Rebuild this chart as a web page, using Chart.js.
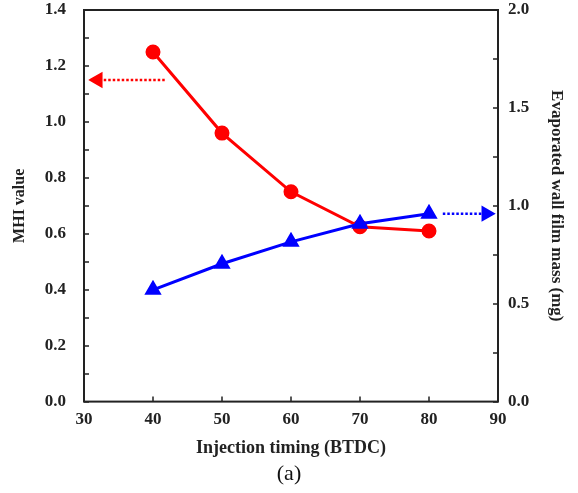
<!DOCTYPE html>
<html>
<head>
<meta charset="utf-8">
<script src="https://cdn.jsdelivr.net/npm/chart.js@4.4.1/dist/chart.umd.min.js"></script>
<style>
  html,body{margin:0;padding:0;background:#fff;}
  canvas{display:block;}
</style>
</head>
<body>
<canvas id="c" width="578" height="493"></canvas>
<script>
// Data
const timing = [40, 50, 60, 70, 80];
const mhi = [1.25, 0.96, 0.75, 0.625, 0.61];
const evapMass = [0.571, 0.704, 0.816, 0.908, 0.959];
// arrow guides (start -> tip)
const redArrowX = [41.7, 32];
const redArrowY = [1.15, 1.15];
const blueArrowX = [82, 88.3];
const blueArrowY = [0.96, 0.96];

const FONT = '"Liberation Serif", "Times New Roman", serif';
const toPts = (xs, ys) => xs.map((x, i) => ({x: x, y: ys[i]}));

// frame + inward tick marks
const frameTicks = {
  id: 'frameTicks',
  afterDraw(chart){
    const {ctx, chartArea:a, scales} = chart;
    ctx.save();
    ctx.strokeStyle = '#222';
    ctx.lineWidth = 1.5;
    const len = 5;
    ctx.beginPath();
    scales.y.ticks.forEach(t => { const p = Math.round(scales.y.getPixelForValue(t.value)); ctx.moveTo(a.left, p); ctx.lineTo(a.left + len, p); });
    scales.y2.ticks.forEach(t => { const p = Math.round(scales.y2.getPixelForValue(t.value)); ctx.moveTo(a.right, p); ctx.lineTo(a.right - len, p); });
    scales.x.ticks.forEach(t => { const p = Math.round(scales.x.getPixelForValue(t.value)); ctx.moveTo(p, a.bottom); ctx.lineTo(p, a.bottom - len); });
    ctx.stroke();
    ctx.lineWidth = 2;
    ctx.strokeRect(a.left, a.top, a.right - a.left, a.bottom - a.top);
    ctx.restore();
  }
};

function noEdgePad(s){ s.paddingTop = 0; s.paddingBottom = 0; s.paddingLeft = 0; s.paddingRight = 0; }

new Chart(document.getElementById('c'), {
  type: 'line',
  data: {
    datasets: [
      {label:'Evaporated wall film mass', data: toPts(timing, evapMass), yAxisID:'y2', order:0,
       borderColor:'#0000ff', backgroundColor:'#0000ff', borderWidth:3, pointStyle:'triangle', pointRadius:7},
      {label:'MHI', data: toPts(timing, mhi), yAxisID:'y', order:1,
       borderColor:'#ff0000', backgroundColor:'#ff0000', borderWidth:3, pointStyle:'circle', pointRadius:6},
      {label:'arrow red', data: toPts(redArrowX, redArrowY), yAxisID:'y', order:2,
       borderColor:'#ff0000', backgroundColor:'#ff0000', borderWidth:2.5, borderDash:[2.5,2],
       pointStyle:'triangle', rotation:270, pointRadius:[0,7]},
      {label:'arrow blue', data: toPts(blueArrowX, blueArrowY), yAxisID:'y2', order:2,
       borderColor:'#0000ff', backgroundColor:'#0000ff', borderWidth:2.5, borderDash:[2.5,2],
       pointStyle:'triangle', rotation:90, pointRadius:[0,7]}
    ]
  },
  options: {
    responsive:false,
    animation:false,
    layout:{padding:{top:10, right:0, left:0, bottom:0}},
    plugins:{
      legend:{display:false},
      tooltip:{enabled:false},
      title:{display:true, position:'bottom', text:'(a)', color:'#111',
        font:{family:FONT, size:22, weight:'normal'}, padding:{top:0, bottom:6}}
    },
    scales:{
      x:{type:'linear', min:30, max:90,
        ticks:{stepSize:10, padding:8, color:'#222', font:{family:FONT, size:17, weight:'bold'}},
        grid:{display:false, drawTicks:false}, border:{display:false},
        title:{display:true, text:'Injection timing (BTDC)', color:'#222', padding:{top:0, bottom:1},
          font:{family:FONT, size:18, weight:'bold'}},
        afterFit(s){ s.height = 59; noEdgePad(s); }
      },
      y:{position:'left', min:0, max:1.4,
        ticks:{stepSize:0.1, padding:18, color:'#222', font:{family:FONT, size:17, weight:'bold'},
          callback:v => Math.round(v*10) % 2 === 0 ? v.toFixed(1) : ''},
        grid:{display:false, drawTicks:false}, border:{display:false},
        title:{display:true, text:'MHI value', color:'#222', padding:{top:10, bottom:0},
          font:{family:FONT, size:16, weight:'bold'}},
        afterFit(s){ s.width = 84; noEdgePad(s); }
      },
      y2:{position:'right', min:0, max:2.0,
        ticks:{stepSize:0.25, padding:10, color:'#222', font:{family:FONT, size:17, weight:'bold'},
          callback:v => Math.round(v*4) % 2 === 0 ? v.toFixed(1) : ''},
        grid:{display:false, drawTicks:false}, border:{display:false},
        title:{display:true, text:'Evaporated wall film mass (mg)', color:'#222', padding:{top:11, bottom:0},
          font:{family:FONT, size:17, weight:'bold'}},
        afterFit(s){ s.width = 80; noEdgePad(s); }
      }
    }
  },
  plugins:[frameTicks]
});
</script>
</body>
</html>
